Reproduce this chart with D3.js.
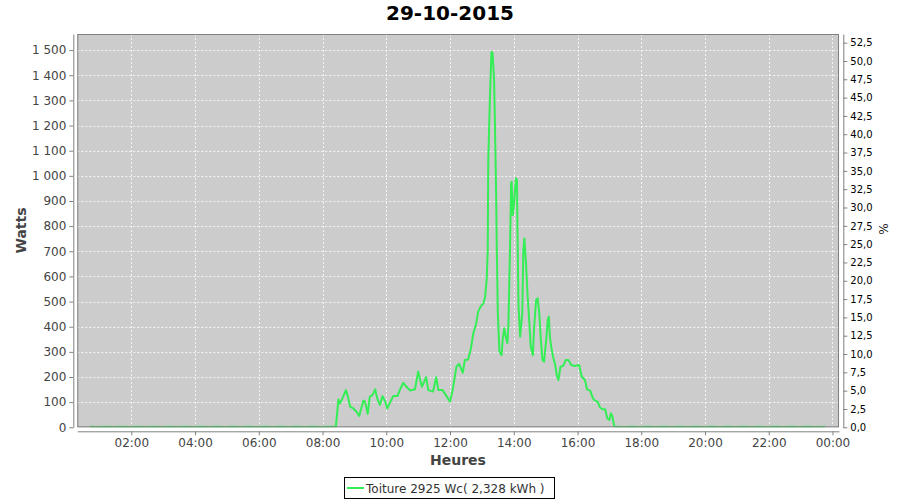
<!DOCTYPE html>
<html><head><meta charset="utf-8">
<script src="https://cdn.jsdelivr.net/npm/d3@7"></script>
<style>body{margin:0;background:#fff;} text{font-family:"DejaVu Sans",sans-serif;}</style>
</head><body><svg id="c" width="900" height="500"></svg>
<script>
const title = "29-10-2015";
const seriesName = "Toiture 2925 Wc( 2,328 kWh )";
const xTitle = "Heures";
const yTitle = "Watts";
const y2Title = "%";

const times = [
 "00:42","00:57","01:12","01:27","01:42","01:57","02:12","02:27","02:42","02:57","03:12","03:27","03:42","03:57",
 "04:12","04:27","04:42","04:57","05:12","05:27","05:42","05:57","06:12","06:27","06:42","06:57","07:12","07:27",
 "07:42","07:57","08:12","08:25",
 "08:30","08:33","08:36","08:44","08:47","08:52","08:58","09:04","09:09","09:12","09:17","09:20","09:25","09:29",
 "09:34","09:39","09:43","09:48","09:53","09:58","10:02","10:06","10:13","10:21","10:26","10:32","10:38","10:45",
 "10:54","11:00","11:07","11:15","11:19","11:28","11:34","11:38","11:46","11:54","12:00","12:05","12:12","12:17",
 "12:24","12:28","12:34","12:39","12:44","12:49","12:53","12:58","13:03","13:06","13:09","13:11","13:12","13:15",
 "13:18","13:20","13:23","13:25","13:27","13:28","13:30","13:33","13:37","13:39","13:42","13:45","13:48","13:50",
 "13:53","13:55","13:56","13:58","14:00","14:04","14:06","14:07","14:09","14:12","14:16","14:18","14:20","14:23",
 "14:26","14:29","14:32","14:36","14:38","14:42","14:45","14:48","14:51","14:54","14:57","15:01","15:04","15:06",
 "15:08","15:11","15:14","15:18","15:21","15:24","15:28","15:33","15:38","15:43","15:48","15:55","16:03","16:08",
 "16:14","16:18","16:24","16:29","16:33","16:38","16:42","16:47","16:52","16:56","17:00","17:03","17:06","17:09",
 "17:12","17:27","17:42","17:57","18:12","18:27","18:42","18:57","19:12","19:27","19:42","19:57","20:12","20:27",
 "20:42","20:57","21:12","21:27","21:42","21:57","22:12","22:27","22:42","22:57","23:12","23:27","23:46"
];
const watts = [
 2,1,2,1,2,1,2,1,2,1,2,1,2,1,
 2,1,2,1,2,1,2,1,2,1,2,1,2,1,
 2,1,2,2,
 111,95,108,148,128,82,75,62,45,69,106,102,53,122,
 128,151,115,89,124,102,75,93,124,124,151,177,161,146,
 151,221,161,199,148,142,199,148,148,122,102,148,241,252,
 217,268,270,310,375,411,460,482,493,519,586,705,1060,1300,
 1493,1489,1381,1155,900,718,453,301,287,347,394,360,334,413,
 718,970,976,844,877,990,983,784,480,360,453,705,751,652,
 526,427,320,287,387,506,513,453,347,268,261,347,427,440,
 360,314,281,248,208,188,241,244,268,268,248,244,248,201,
 188,151,146,115,106,102,80,72,72,36,29,56,40,5,
 2,1,2,1,2,1,2,1,2,1,2,1,2,1,
 2,1,2,1,2,1,2,1,2,1,2,1,2
];
const wattTicks = [0,100,200,300,400,500,600,700,800,900,1000,1100,1200,1300,1400,1500];
const pctTicks = [0,2.5,5,7.5,10,12.5,15,17.5,20,22.5,25,27.5,30,32.5,35,37.5,40,42.5,45,47.5,50,52.5];
const hourTicks = ["02:00","04:00","06:00","08:00","10:00","12:00","14:00","16:00","18:00","20:00","22:00","00:00"];

const toMin = s => { const [h,m] = s.split(":").map(Number); return h*60+m; };
const data = times.map((t,i)=>({t:toMin(t), v:watts[i]}));
const tickMins = hourTicks.map((s,i)=> (i+1)*120);

const L=77.3, R=839, T=34, B=427.3;
const svg = d3.select("#c");
const x = d3.scaleLinear().domain([18.3,1452.3]).range([L,R]);
const y = d3.scaleLinear().domain([0,1564]).range([B,T]);
const y2 = d3.scaleLinear().domain([0,53.68]).range([B,T]);

svg.append("rect").attr("x",L).attr("y",T).attr("width",R-L).attr("height",B-T).attr("fill","#cccccc");

// grid
const g = svg.append("g");
g.selectAll("line.h").data(wattTicks.filter(d=>d>0)).join("line")
 .attr("x1",L).attr("x2",R).attr("y1",d=>Math.round(y(d))+0.5).attr("y2",d=>Math.round(y(d))+0.5)
 .attr("stroke","#ffffff").attr("stroke-width",0.8).attr("stroke-dasharray","2,2");
g.selectAll("line.v").data(tickMins).join("line")
 .attr("y1",T).attr("y2",B).attr("x1",d=>Math.round(x(d))+0.5).attr("x2",d=>Math.round(x(d))+0.5)
 .attr("stroke","#ffffff").attr("stroke-width",0.8).attr("stroke-dasharray","2,2");

svg.append("clipPath").attr("id","clip").append("rect").attr("x",L).attr("y",T).attr("width",R-L).attr("height",B-T);
svg.append("path").datum(data).attr("clip-path","url(#clip)")
 .attr("d", d3.line().x(d=>x(d.t)).y(d=>y(d.v)))
 .attr("fill","none").attr("stroke","#33ee55").attr("stroke-width",2).attr("stroke-linejoin","round");

svg.append("rect").attr("x",L+0.5).attr("y",T+0.5).attr("width",R-L-1).attr("height",B-T-1)
 .attr("fill","none").attr("stroke","#808080").attr("stroke-width",1);

const fmt = d => d3.format(",")(d).replace(/,/g," ");
const ax = svg.append("g").attr("transform",`translate(73.3,0)`)
 .call(d3.axisLeft(y).tickValues(wattTicks).tickFormat(fmt).tickSize(4).tickSizeOuter(0).tickPadding(3));
ax.selectAll("text").attr("font-size",12).attr("fill","#444").attr("font-family","DejaVu Sans");
ax.selectAll("line,path").attr("stroke","#808080");

const bx = svg.append("g").attr("transform",`translate(0,431.3)`)
 .call(d3.axisBottom(x).tickValues(tickMins).tickFormat((d,i)=>hourTicks[i]).tickSize(4).tickSizeOuter(0).tickPadding(3));
bx.selectAll("text").attr("font-size",12).attr("fill","#444").attr("font-family","DejaVu Sans");
bx.selectAll("line,path").attr("stroke","#808080");

const rx = svg.append("g").attr("transform",`translate(843.3,0)`)
 .call(d3.axisRight(y2).tickValues(pctTicks).tickFormat(d=>d3.format(".1f")(d).replace(".",",")).tickSize(4).tickSizeOuter(0).tickPadding(3));
rx.selectAll("text").attr("font-size",10).attr("fill","#000").attr("font-family","DejaVu Sans");
rx.selectAll("line,path").attr("stroke","#808080");

svg.append("text").attr("x",450).attr("y",20).attr("text-anchor","middle").attr("font-size",20).attr("font-weight","bold").attr("fill","#000").text(title);
svg.append("text").attr("x",458).attr("y",465).attr("text-anchor","middle").attr("font-size",14).attr("font-weight","bold").attr("fill","#444").text(xTitle);
svg.append("text").attr("transform","translate(26,230.5) rotate(-90)").attr("text-anchor","middle").attr("font-size",14).attr("font-weight","bold").attr("fill","#444").text(yTitle);
svg.append("text").attr("transform","translate(888,229) rotate(-90)").attr("text-anchor","middle").attr("font-size",12).attr("fill","#222").text(y2Title);

const lg = svg.append("g");
lg.append("rect").attr("x",344.5).attr("y",477.5).attr("width",210).attr("height",21).attr("fill","#fff").attr("stroke","#000");
lg.append("line").attr("x1",347).attr("x2",364).attr("y1",488).attr("y2",488).attr("stroke","#33ee55").attr("stroke-width",2);
lg.append("text").attr("x",366).attr("y",492.5).attr("font-size",12).attr("fill","#333").text(seriesName);
</script></body></html>
